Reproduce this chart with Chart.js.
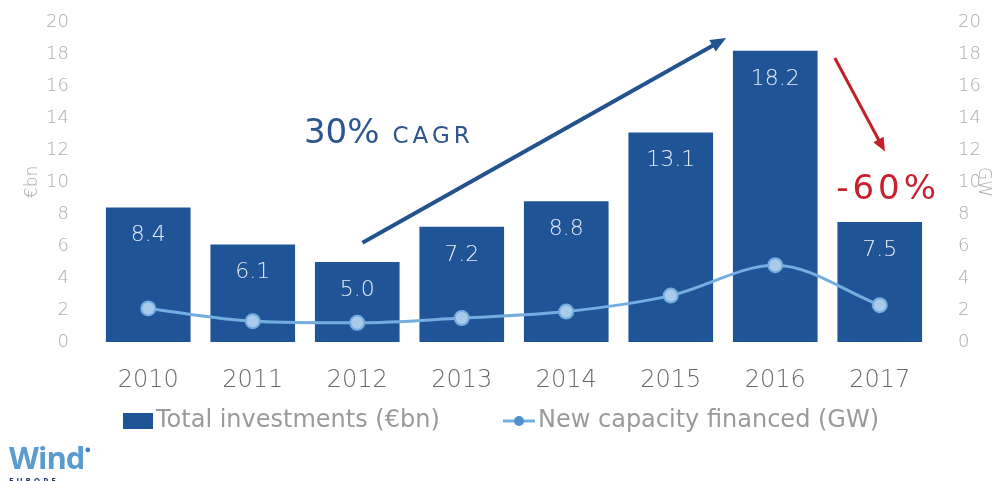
<!DOCTYPE html>
<html>
<head>
<meta charset="utf-8">
<script src="https://cdn.jsdelivr.net/npm/chart.js@4"></script>
<style>
  html, body { margin: 0; padding: 0; background: #fff; }
  #wrap { position: relative; width: 998px; height: 481px; overflow: hidden; }
  #logo { position: absolute; left: 9px; top: 441px; font-family: 'Open Sans', sans-serif; color: #5a9bd0; }
  #logo .w { font-size: 31px; font-weight: 700; letter-spacing: -1px; line-height: 32px; }
  #logo .dot { font-size: 11px; vertical-align: top; color: #3d7fc0; }
  #logo .eu { font-size: 8px; font-weight: 700; letter-spacing: 3px; color: #1d3a66; margin-top: 1px; }
</style>
</head>
<body>
<div id="wrap">
  <canvas id="chart" width="998" height="481"></canvas>
  <div id="logo"><span class="w">Wind</span><span class="dot">&#9679;</span><div class="eu">EUROPE</div></div>
</div>
<script>
const years = ['2010', '2011', '2012', '2013', '2014', '2015', '2016', '2017'];
const investments = [8.4, 6.1, 5.0, 7.2, 8.8, 13.1, 18.2, 7.5];
const capacity = [2.1, 1.3, 1.2, 1.5, 1.9, 2.9, 4.8, 2.3];
const axisTicks = [0, 2, 4, 6, 8, 10, 12, 14, 16, 18, 20];

const barBlue = '#1f5596';
const lineBlue = '#74aee0';
const pointFill = '#a9cbe9';
const tickGrey = '#ababab';
const legendGrey = '#9a9a9a';
const thinFont = "'DejaVu Sans', sans-serif";

// value labels, arrows, call-outs and the legend row under the axis
const overlay = {
  id: 'overlay',
  afterDatasetsDraw(chart) {
    const ctx = chart.ctx;
    const xs = chart.scales.x, ys = chart.scales.y;
    const bars = chart.getDatasetMeta(1);
    ctx.save();
    ctx.fillStyle = '#e6ecf5';
    ctx.font = '200 22px ' + thinFont;
    ctx.textAlign = 'center';
    ctx.textBaseline = 'middle';
    bars.data.forEach((bar, i) => {
      ctx.fillText(investments[i].toFixed(1), bar.x, bar.y + 28);
    });

    function arrow(x0, y0, x1, y1, color, width, head) {
      const px0 = xs.getPixelForValue(x0), py0 = ys.getPixelForValue(y0);
      const px1 = xs.getPixelForValue(x1), py1 = ys.getPixelForValue(y1);
      const a = Math.atan2(py1 - py0, px1 - px0);
      ctx.strokeStyle = color;
      ctx.fillStyle = color;
      ctx.lineWidth = width;
      ctx.beginPath();
      ctx.moveTo(px0, py0);
      ctx.lineTo(px1 - Math.cos(a) * head * 0.8, py1 - Math.sin(a) * head * 0.8);
      ctx.stroke();
      ctx.beginPath();
      ctx.moveTo(px1, py1);
      ctx.lineTo(px1 - Math.cos(a - 0.4) * head, py1 - Math.sin(a - 0.4) * head);
      ctx.lineTo(px1 - Math.cos(a + 0.4) * head, py1 - Math.sin(a + 0.4) * head);
      ctx.closePath();
      ctx.fill();
    }
    arrow(2.05, 6.2, 5.53, 19.0, '#22528f', 4, 17);
    arrow(6.57, 17.75, 7.05, 11.9, '#c0222c', 3, 15);

    // "30% CAGR"
    ctx.textAlign = 'left';
    ctx.textBaseline = 'alphabetic';
    ctx.fillStyle = '#2d558f';
    const tx = xs.getPixelForValue(1.49), ty = ys.getPixelForValue(12.44);
    ctx.font = '34px ' + thinFont;
    ctx.fillText('30%', tx, ty);
    const w = ctx.measureText('30%').width + 13;
    ctx.letterSpacing = '4px';
    ctx.font = '23px ' + thinFont;
    ctx.fillText('CAGR', tx + w, ty);

    // "-60%"
    ctx.fillStyle = '#c8202e';
    ctx.letterSpacing = '4px';
    ctx.font = '34px ' + thinFont;
    ctx.textAlign = 'center';
    ctx.fillText('-60%', xs.getPixelForValue(7.08), ys.getPixelForValue(8.94));
    ctx.restore();

    // legend row
    const ly = chart.chartArea.bottom + 79;
    const barSet = chart.data.datasets[1], lineSet = chart.data.datasets[0];
    ctx.save();
    ctx.font = '24px ' + thinFont;
    ctx.textBaseline = 'middle';
    ctx.textAlign = 'left';
    let lx = 123;
    ctx.fillStyle = barSet.backgroundColor;
    ctx.fillRect(lx, ly - 8, 30, 16);
    ctx.fillStyle = legendGrey;
    ctx.fillText(barSet.label, lx + 33, ly);
    lx = 503;
    ctx.strokeStyle = lineSet.borderColor;
    ctx.lineWidth = 3;
    ctx.beginPath(); ctx.moveTo(lx, ly); ctx.lineTo(lx + 32, ly); ctx.stroke();
    ctx.fillStyle = '#4f92cf';
    ctx.beginPath(); ctx.arc(lx + 16, ly, 5, 0, Math.PI * 2); ctx.fill();
    ctx.fillStyle = legendGrey;
    ctx.fillText(lineSet.label, lx + 35, ly);
    ctx.restore();
  }
};

// vertical axes: drop the label overhang so the plot runs from 20 at the top
function fitVertical(width) {
  return s => {
    s.width = width;
    s.paddingTop = 0;
    s.paddingBottom = 0;
  };
}

new Chart(document.getElementById('chart'), {
  data: {
    labels: years,
    datasets: [
      {
        type: 'line',
        label: 'New capacity financed (GW)',
        data: capacity,
        yAxisID: 'y2',
        borderColor: lineBlue,
        borderWidth: 3,
        pointBackgroundColor: pointFill,
        pointBorderColor: lineBlue,
        pointBorderWidth: 2,
        pointRadius: 7,
        cubicInterpolationMode: 'monotone',
        order: 0
      },
      {
        type: 'bar',
        label: 'Total investments (€bn)',
        data: investments,
        yAxisID: 'y',
        backgroundColor: barBlue,
        categoryPercentage: 0.81,
        barPercentage: 1,
        order: 1
      }
    ]
  },
  options: {
    responsive: false,
    animation: false,
    layout: { padding: { top: 22, bottom: 89, left: 22, right: 4 } },
    plugins: {
      tooltip: { enabled: false },
      legend: { display: false }
    },
    scales: {
      x: {
        grid: { display: false },
        border: { display: false },
        ticks: { color: '#6a6a6a', font: { family: thinFont, size: 24, weight: '200' }, padding: 16 },
        afterFit(s) { s.height = 50; }
      },
      y: {
        position: 'left',
        min: 0, max: 20,
        afterBuildTicks(s) { s.ticks = axisTicks.map(v => ({ value: v })); },
        grid: { display: false },
        border: { display: false },
        ticks: { color: tickGrey, font: { family: thinFont, size: 18, weight: '200' }, padding: 19 },
        title: { display: true, text: '€bn', color: tickGrey, font: { family: thinFont, size: 17, weight: '200' }, padding: 0 },
        afterFit: fitVertical(74)
      },
      y2: {
        position: 'right',
        min: 0, max: 20,
        afterBuildTicks(s) { s.ticks = axisTicks.map(v => ({ value: v })); },
        grid: { display: false },
        border: { display: false },
        ticks: { color: tickGrey, font: { family: thinFont, size: 18, weight: '200' }, padding: 18 },
        title: { display: true, text: 'GW', color: tickGrey, font: { family: thinFont, size: 17, weight: '200' }, padding: 0 },
        afterFit: fitVertical(62)
      }
    }
  },
  plugins: [overlay]
});
</script>
</body>
</html>
